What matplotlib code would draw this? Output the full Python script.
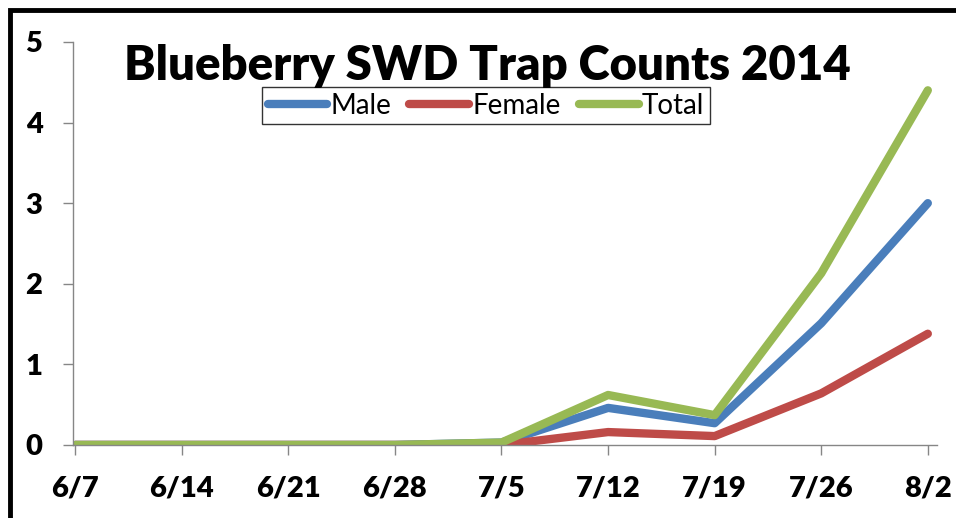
import matplotlib.pyplot as plt
from matplotlib.patches import Rectangle

# weekly trap dates and mean counts
dates = ['6/7', '6/14', '6/21', '6/28', '7/5', '7/12', '7/19', '7/26', '8/2']
male = [0, 0, 0, 0, 0.03, 0.46, 0.27, 1.51, 3.0]
female = [0, 0, 0, 0, 0, 0.16, 0.11, 0.64, 1.38]
total = [0, 0, 0, 0, 0.03, 0.62, 0.37, 2.13, 4.4]

plt.rcParams['font.family'] = ['Lato', 'DejaVu Sans']

fig = plt.figure(figsize=(9.56, 5.18), dpi=100)
ax = fig.add_axes([0.0764, 0.141, 0.9036, 0.778])

x = list(range(len(dates)))
lw = 6
ax.plot(x, male, color='#4A7EBB', lw=lw, solid_capstyle='round', solid_joinstyle='round', label='Male')
ax.plot(x, female, color='#BE4B48', lw=lw, solid_capstyle='round', solid_joinstyle='round', label='Female')
ax.plot(x, total, color='#98B954', lw=lw, solid_capstyle='round', solid_joinstyle='round', label='Total')

ax.set_xlim(-0.02, 8.085)
ax.set_ylim(0, 5)
ax.set_xticks(x)
ax.set_xticklabels(dates)
ax.set_yticks(range(6))

for s in ['top', 'right']:
    ax.spines[s].set_visible(False)
for s in ['left', 'bottom']:
    ax.spines[s].set_color('#868686')
    ax.spines[s].set_linewidth(1)
ax.tick_params(axis='both', length=7, width=1, color='#868686', labelsize=21)
ax.tick_params(axis='x', pad=15)
ax.tick_params(axis='y', pad=15)
for lab in ax.get_xticklabels() + ax.get_yticklabels():
    lab.set_fontweight('heavy')

fig.text(0.51, 0.872, 'Blueberry SWD Trap Counts 2014', fontsize=34, fontweight='heavy',
         ha='center', va='center')

leg = ax.legend(loc='center', bbox_to_anchor=(0.478, 0.842), ncol=3, fontsize=20,
                frameon=True, fancybox=False, handlelength=2.15, handletextpad=0.12,
                columnspacing=0.65, borderpad=0.2, borderaxespad=0)
leg.get_frame().set_edgecolor('black')
leg.get_frame().set_linewidth(1)
for h in leg.get_lines():
    h.set_linewidth(6)
    h.set_solid_capstyle('round')

# outer chart border (cropped on the right and bottom)
fig.patches.append(Rectangle((10 / 956, -0.1), 1.2, 1 - 10 / 518 + 0.1, transform=fig.transFigure,
                             fill=False, edgecolor='black', linewidth=3.5))

fig.savefig('out.png', dpi=100)
